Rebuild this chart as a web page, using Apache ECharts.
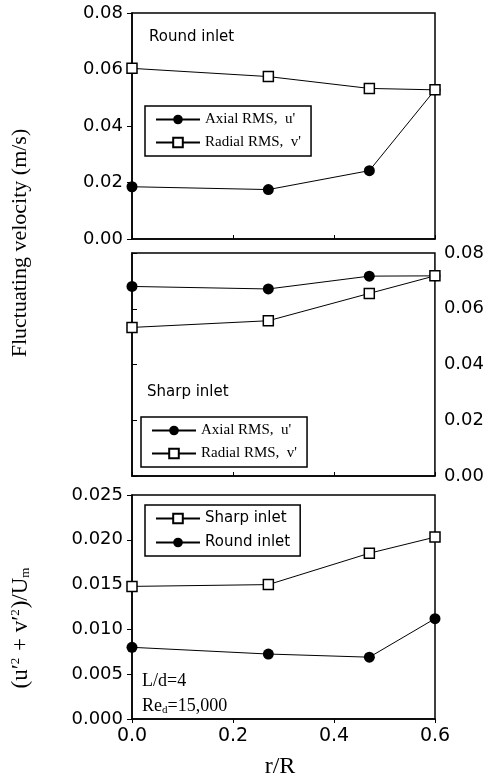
<!DOCTYPE html>
<html>
<head>
<meta charset="utf-8">
<script src="https://cdn.jsdelivr.net/npm/echarts@6/dist/echarts.min.js"></script>
<style>
    html, body { margin: 0; padding: 0; background: #fff; }
    #chart { width: 487px; height: 779px; }
</style>
</head>
<body>
<div id="chart"></div>
<script>
// r/R positions of the four measuring stations
var rR = [0, 0.27, 0.47, 0.6];
var xTicks = ['0.0', '0.2', '0.4', '0.6'];

// top panel: round inlet (m/s)
var roundAxial = [0.0185, 0.0175, 0.0242, 0.0528];
var roundRadial = [0.0604, 0.0575, 0.0533, 0.0528];

// middle panel: sharp inlet (m/s)
var sharpAxial = [0.0680, 0.0671, 0.0717, 0.0718];
var sharpRadial = [0.0533, 0.0557, 0.0655, 0.0718];

// bottom panel: (u'^2 + v'^2) / Um
var sharpRatio = [0.0148, 0.0150, 0.0185, 0.0203];
var roundRatio = [0.0080, 0.00725, 0.0069, 0.0112];

var SERIF = '"Liberation Serif", "DejaVu Serif", serif';
var SANS = '"DejaVu Sans", "Liberation Sans", sans-serif';

var fig = {
    chart : null,
    init : function() {
        this.chart = echarts.init(document.getElementById('chart'));
        this.chart.setOption(this.buildOption());
    },
    pairs : function(ys) {
        var out = [];
        for (var i = 0; i < rR.length; i++) {
            out.push([ rR[i], ys[i] ]);
        }
        return out;
    },
    grid : function(top, height) {
        return {
            left : 132,
            top : top,
            width : 303,
            height : height,
            show : true,
            borderColor : '#000',
            borderWidth : 1.5,
            backgroundColor : 'transparent'
        };
    },
    xAxis : function(idx, labels) {
        return {
            type : 'value',
            gridIndex : idx,
            min : 0,
            max : 0.6,
            interval : 0.2,
            axisLine : { show : true, lineStyle : { color : '#000', width : 1.5 } },
            axisTick : { show : true, inside : !labels, length : 4, lineStyle : { color : '#000' } },
            splitLine : { show : false },
            axisLabel : {
                show : labels,
                color : '#000',
                fontFamily : SANS,
                fontSize : 19,
                margin : 8,
                formatter : function(v) {
                    return xTicks[Math.round(v / 0.2)];
                }
            }
        };
    },
    yAxis : function(idx, max, interval, digits, pos) {
        return {
            type : 'value',
            gridIndex : idx,
            position : pos,
            min : 0,
            max : max,
            interval : interval,
            axisLine : { show : true, lineStyle : { color : '#000', width : 1.5 } },
            axisTick : { show : true, length : 5, lineStyle : { color : '#000' } },
            splitLine : { show : false },
            axisLabel : {
                color : '#000',
                fontFamily : SANS,
                fontSize : 18,
                margin : 9,
                formatter : function(v) {
                    return v.toFixed(digits);
                }
            }
        };
    },
    line : function(name, idx, ys, symbol) {
        var open = symbol == 'rect';
        return {
            name : name,
            type : 'line',
            xAxisIndex : idx,
            yAxisIndex : idx,
            data : this.pairs(ys),
            symbol : symbol,
            symbolSize : open ? 10 : 11,
            z : open ? 3 : 2,
            lineStyle : { color : '#000', width : 1 },
            itemStyle : {
                color : open ? '#fff' : '#000',
                borderColor : '#000',
                borderWidth : open ? 1.5 : 0
            }
        };
    },
    legend : function(names, left, top, font, size, gap) {
        return {
            data : names,
            orient : 'vertical',
            left : left,
            top : top,
            itemWidth : 44,
            itemHeight : 12,
            itemGap : gap,
            padding : [ 6, 10, 6, 10 ],
            borderColor : '#000',
            borderWidth : 1.5,
            selectedMode : false,
            textStyle : { color : '#000', fontFamily : font, fontSize : size }
        };
    },
    buildOption : function() {
        return {
            animation : false,
            backgroundColor : '#fff',
            grid : [ this.grid(13, 226), this.grid(253, 223), this.grid(495, 224) ],
            xAxis : [ this.xAxis(0, false), this.xAxis(1, false), this.xAxis(2, true) ],
            yAxis : [
                this.yAxis(0, 0.08, 0.02, 2, 'left'),
                this.yAxis(1, 0.08, 0.02, 2, 'right'),
                this.yAxis(2, 0.025, 0.005, 3, 'left')
            ],
            legend : [
                this.legend([ "Axial RMS,  u'", "Radial RMS,  v'" ], 145, 106, SERIF, 15, 8),
                this.legend([ "Axial RMS,  u'", "Radial RMS,  v'" ], 141, 417, SERIF, 15, 8),
                this.legend([ 'Sharp inlet', 'Round inlet' ], 145, 505, SANS, 15, 9)
            ],
            series : [
                this.line("Axial RMS,  u'", 0, roundAxial, 'circle'),
                this.line("Radial RMS,  v'", 0, roundRadial, 'rect'),
                this.line("Axial RMS,  u'", 1, sharpAxial, 'circle'),
                this.line("Radial RMS,  v'", 1, sharpRadial, 'rect'),
                this.line('Sharp inlet', 2, sharpRatio, 'rect'),
                this.line('Round inlet', 2, roundRatio, 'circle')
            ],
            graphic : [
                { type : 'text', left : 149, top : 30, style : { text : 'Round inlet', font : '15px ' + SANS, fill : '#000' } },
                { type : 'text', left : 147, top : 385, style : { text : 'Sharp inlet', font : '15px ' + SANS, fill : '#000' } },
                { type : 'text', left : 142, top : 672, style : { text : 'L/d=4', font : '18px ' + SERIF, fill : '#000' } },
                {
                    type : 'text', left : 142, top : 697,
                    style : {
                        text : 'Re{s|d}=15,000', font : '18px ' + SERIF, fill : '#000',
                        rich : { s : { fontSize : 11, fontFamily : SERIF, padding : [ 9, 0, 0, 0 ] } }
                    }
                },
                {
                    type : 'text', x : 20, y : 243, rotation : Math.PI / 2,
                    style : { text : 'Fluctuating velocity (m/s)', font : '22px ' + SERIF, fill : '#000', align : 'center', verticalAlign : 'middle' }
                },
                {
                    type : 'text', x : 21, y : 628, rotation : Math.PI / 2,
                    style : {
                        text : "(u\u2032{p|2} + v\u2032{p|2})/U{s|m}", font : '23px ' + SERIF, fill : '#000',
                        align : 'center', verticalAlign : 'middle',
                        rich : {
                            p : { fontSize : 13, fontFamily : SERIF, padding : [ 0, 1, 10, 0 ] },
                            s : { fontSize : 13, fontFamily : SERIF, padding : [ 10, 0, 0, 0 ] }
                        }
                    }
                },
                { type : 'text', x : 280, y : 767, style : { text : 'r/R', font : '24px ' + SERIF, fill : '#000', align : 'center', verticalAlign : 'middle' } }
            ]
        };
    }
};

fig.init();
</script>
</body>
</html>
